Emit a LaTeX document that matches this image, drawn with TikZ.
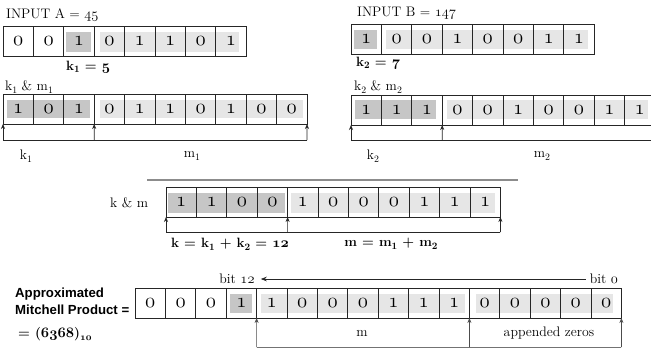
\documentclass[tikz,border=0pt]{standalone}
\usepackage{fontspec}
\newfontfamily\arialfont{Liberation Sans}
\usetikzlibrary{arrows.meta}

% old-style figures taken from the math italic font
\newcommand\osf[1]{\ensuremath{\mathnormal{#1}}}
% lowered small index figures
\newcommand\sub[1]{\raisebox{-0.45ex}{\fontsize{9.8}{10}\selectfont #1}}

\definecolor{kband}{RGB}{198,198,198}
\definecolor{mband}{RGB}{230,230,230}

\begin{document}
\begin{tikzpicture}[x=1pt,y=-1pt,
  cell/.style={draw=black!85, line width=0.7pt, minimum width=30.4pt, minimum height=30pt,
    inner sep=0pt, outer sep=0pt, anchor=north west, font=\fontsize{21}{21}\selectfont},
  lbl/.style={inner sep=0pt, font=\fontsize{13.8}{15}\selectfont},
  blbl/.style={inner sep=0pt, font=\fontsize{13.5}{15}\selectfont\bfseries\boldmath},
  sanslbl/.style={inner sep=0pt, align=left, font=\arialfont\bfseries\fontsize{13.2}{17}\selectfont},
  brk/.style={line width=0.7pt, black!85},
  brkarr/.style={brk, -{Stealth[length=5pt,width=4pt]}},
  gbrk/.style={line width=0.9pt, black!55},
  gbrkarr/.style={line width=0.7pt, black!70, -{Stealth[length=5pt,width=4pt]}},
  sepline/.style={line width=1.3pt, black!45}]

\clip (0,0) rectangle (651,354);
\fill[white] (0,0) rectangle (651,354);

% ---- shaded bands behind the bit cells ----
\fill[kband] (66,32) rectangle (91,52);
\fill[mband] (100,32) rectangle (239,52);
\fill[kband] (7,100) rectangle (90,118);
\fill[mband] (100,100) rectangle (303,118);
\fill[kband] (354,30) rectangle (377,49);
\fill[mband] (386,30) rectangle (588,49);
\fill[kband] (355,100) rectangle (436,119);
\fill[mband] (447,100) rectangle (648,119);
\fill[kband] (168,193) rectangle (285,213);
\fill[mband] (291,193) rectangle (495,213);
\fill[kband] (230,294) rectangle (252,313);
\fill[mband] (261,294) rectangle (465,313);
\fill[mband] (476,294) rectangle (613,313);

% ---- bit rows ----
\foreach \d [count=\i] in {0,0,1,0,1,1,0,1}
  \node[cell] (a\i) at ({3+30.4*(\i-1)},26) {\osf{\d}};
\foreach \d [count=\i] in {1,0,1,0,1,1,0,1,0,0}
  \node[cell] (p\i) at ({3+30.4*(\i-1)},94) {\osf{\d}};
\foreach \d [count=\i] in {1,0,0,1,0,0,1,1}
  \node[cell] (b\i) at ({351+30.4*(\i-1)},24) {\osf{\d}};
\foreach \d [count=\i] in {1,1,1,0,0,1,0,0,1,1}
  \node[cell] (q\i) at ({351+30.4*(\i-1)},95) {\osf{\d}};
\foreach \d [count=\i] in {1,1,0,0,1,0,0,0,1,1,1}
  \node[cell] (s\i) at ({166+30.4*(\i-1)},187) {\osf{\d}};
\foreach \d [count=\i] in {0,0,0,1,1,0,0,0,1,1,1,0,0,0,0,0}
  \node[cell] (t\i) at ({135+30.4*(\i-1)},288) {\osf{\d}};

% ---- labels ----
\node[lbl, anchor=west] (inA) at (6,15) {INPUT A = \osf{45}};
\node[lbl, anchor=west] (inB) at (357,13) {INPUT B = \osf{147}};
\node[blbl, anchor=west] (k1v) at (66,67) {k\sub{1} = \osf{5}};
\node[blbl, anchor=west] (k2v) at (356,63) {k\sub{2} = \osf{7}};
\node[lbl, anchor=west] (km1) at (5,87) {k\sub{1} \& m\sub{1}};
\node[lbl, anchor=west] (km2) at (354,87) {k\sub{2} \& m\sub{2}};
\node[lbl] (k1lab) at (26,156) {k\sub{1}};
\node[lbl] (m1lab) at (192,156) {m\sub{1}};
\node[lbl] (k2lab) at (373,156) {k\sub{2}};
\node[lbl] (m2lab) at (542,156) {m\sub{2}};
\node[lbl, anchor=west] (kmlab) at (110,203) {k \& m};
\node[blbl] (ksum) at (230,244) {k = k\sub{1} + k\sub{2} = \osf{12}};
\node[blbl] (msum) at (391,244) {m = m\sub{1} + m\sub{2}};
\node[lbl] (bit12) at (237,279) {bit \osf{12}};
\node[lbl] (bit0) at (604,279) {bit \osf{0}};
\node[lbl] (mlab) at (362,333) {m};
\node[lbl] (zlab) at (549,333) {appended zeros};
\node[sanslbl, anchor=west] (apx) at (15,301.5) {Approximated\\Mitchell Product =};
\node[blbl, anchor=west] (res) at (18,334) {= (\osf{6368})\sub{\osf{10}}};

% ---- separator ----
\draw[sepline] (147,180) -- (518,180);

% ---- brackets under k1 & m1 ----
\coordinate (pl) at (3,140);
\coordinate (pm) at (94.2,140);
\coordinate (pr) at (307,140);
\draw[brk] (pl) -- (pr);
\draw[brkarr] (pl) -- (p1.south west);
\draw[brkarr] (pm) -- (p4.south west);
\draw[brkarr] (pr) -- (p10.south east);

% ---- brackets under k2 & m2 ----
\coordinate (ql) at (351,140);
\coordinate (qm) at (442.2,140);
\coordinate (qr) at (655,140);
\draw[brk] (ql) -- (qr);
\draw[brkarr] (ql) -- (q1.south west);
\draw[brkarr] (qm) -- (q4.south west);

% ---- brackets under k & m ----
\coordinate (sl) at (166,232);
\coordinate (sm) at (287.6,232);
\coordinate (sr) at (500.4,232);
\draw[brk] (sl) -- (sr);
\draw[brkarr] (sl) -- (s1.south west);
\draw[brkarr] (sm) -- (s5.south west);
\draw[brkarr] (sr) -- (s11.south east);

% ---- brackets under the product ----
\coordinate (tl) at (256.6,347);
\coordinate (tm) at (469.4,347);
\coordinate (tr) at (621.4,347);
\draw[gbrk] (tl) -- (tr);
\draw[gbrkarr] (tl) -- (t5.south west);
\draw[gbrkarr] (tm) -- (t12.south west);
\draw[gbrkarr] (tr) -- (t16.south east);

% ---- bit index arrow ----
\draw[brk, -{Stealth[length=6pt,width=4.5pt]}, shorten <=4pt, shorten >=6pt]
  (bit0.west) -- (bit12.east);
\end{tikzpicture}
\end{document}
